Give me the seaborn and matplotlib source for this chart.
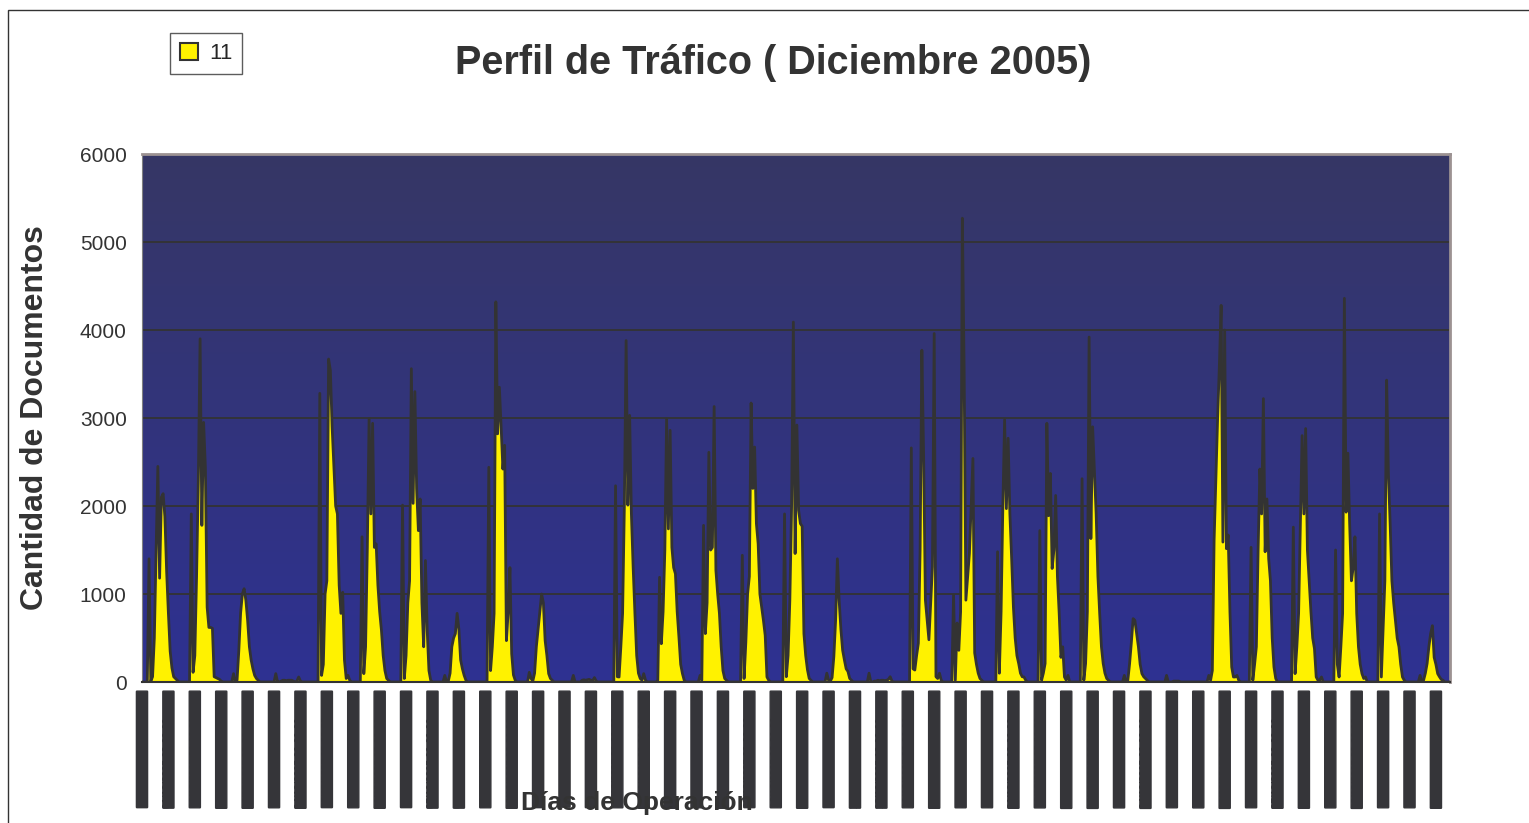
import matplotlib
matplotlib.use("Agg")
import matplotlib.pyplot as plt
import numpy as np
import pandas as pd
import seaborn as sns
from matplotlib.colors import LinearSegmentedColormap
from matplotlib.patches import Patch, Rectangle

# Documentos por hora, un arreglo por dia (00:00 .. 23:00)
dic01 = [0, 0, 0, 0, 1400, 10, 60, 500, 1500, 2450, 1180, 2100, 2140, 1880, 1250, 780, 350, 160, 60, 40, 20, 0, 0, 0]
dic02 = [0, 0, 0, 0, 1910, 110, 300, 1200, 2300, 3900, 1780, 2950, 2440, 850, 620, 620, 610, 60, 50, 40, 30, 10, 0, 0]
dic03 = [0, 0, 0, 0, 95, 0, 20, 360, 780, 1000, 1060, 930, 700, 400, 250, 150, 75, 40, 20, 0, 0, 0, 0, 0]
dic04 = [0, 0, 0, 0, 95, 0, 0, 10, 20, 20, 15, 20, 20, 20, 10, 0, 10, 57, 10, 0, 0, 0, 0, 0]
dic05 = [0, 0, 0, 0, 0, 3280, 75, 200, 1000, 1150, 3670, 3540, 2900, 2440, 2000, 1910, 1100, 780, 1020, 250, 40, 75, 20, 0]
dic06 = [0, 0, 0, 0, 0, 1650, 95, 400, 1530, 2990, 1910, 2940, 1530, 1570, 1100, 800, 590, 300, 130, 40, 20, 0, 0, 0]
dic07 = [0, 0, 0, 0, 2010, 40, 300, 900, 1150, 3560, 2030, 3300, 2200, 1720, 2080, 900, 400, 1380, 590, 130, 20, 0, 0, 0]
dic08 = [0, 0, 0, 0, 75, 0, 10, 100, 400, 500, 550, 780, 600, 250, 150, 75, 20, 0, 0, 0, 0, 0, 0, 0]
dic09 = [0, 0, 0, 0, 0, 2440, 130, 400, 780, 4320, 2820, 3350, 2900, 2420, 2690, 470, 800, 1300, 320, 80, 20, 0, 0, 0]
dic10 = [0, 0, 0, 0, 110, 40, 10, 100, 400, 600, 800, 1000, 900, 470, 300, 95, 40, 20, 0, 0, 0, 0, 0, 0]
dic11 = [0, 0, 0, 0, 0, 75, 0, 0, 0, 0, 20, 25, 20, 25, 30, 20, 15, 50, 10, 0, 0, 0, 0, 0]
dic12 = [0, 0, 0, 0, 0, 2230, 60, 57, 400, 780, 2000, 3880, 2010, 3030, 1910, 1300, 780, 300, 100, 40, 20, 95, 20, 0]
dic13 = [0, 0, 0, 0, 0, 20, 1190, 435, 800, 1500, 2990, 1740, 2860, 1530, 1300, 1230, 800, 510, 200, 95, 20, 0, 0, 0]
dic14 = [0, 0, 0, 0, 0, 75, 20, 1780, 550, 900, 2610, 1500, 1530, 3130, 1270, 1000, 780, 400, 130, 40, 20, 0, 0, 0]
dic15 = [0, 0, 0, 0, 0, 1440, 40, 450, 1000, 1200, 3170, 2200, 2670, 1800, 1570, 1000, 850, 700, 530, 57, 20, 0, 0, 0]
dic16 = [0, 0, 0, 0, 0, 1910, 60, 300, 930, 2000, 4090, 1460, 2920, 1950, 1800, 1770, 550, 300, 140, 40, 20, 0, 0, 0]
dic17 = [0, 0, 0, 0, 0, 100, 20, 10, 50, 290, 700, 1400, 930, 600, 360, 250, 150, 120, 40, 20, 0, 0, 0, 0]
dic18 = [0, 0, 0, 0, 0, 100, 0, 0, 10, 10, 20, 15, 20, 20, 15, 20, 30, 60, 10, 0, 0, 0, 0, 0]
dic19 = [0, 0, 0, 0, 0, 2660, 150, 136, 300, 440, 1500, 3770, 2560, 930, 700, 480, 900, 1310, 3960, 60, 40, 100, 20, 0]
dic20 = [0, 0, 0, 0, 0, 990, 20, 670, 360, 800, 5270, 3550, 930, 1200, 1460, 2000, 2540, 330, 200, 100, 40, 20, 0, 0]
dic21 = [0, 0, 0, 0, 0, 0, 1480, 100, 800, 2000, 2980, 1970, 2770, 1910, 1400, 850, 500, 300, 210, 100, 60, 57, 20, 0]
dic22 = [0, 0, 0, 0, 0, 0, 1720, 20, 100, 210, 2940, 1890, 2370, 1290, 1500, 2120, 1200, 780, 280, 400, 57, 20, 75, 0]
dic23 = [0, 0, 0, 0, 0, 0, 2310, 20, 210, 800, 3920, 1630, 2900, 2400, 1910, 1200, 780, 400, 210, 100, 40, 20, 0, 0]
dic24 = [0, 0, 0, 0, 0, 0, 75, 0, 20, 210, 450, 720, 700, 550, 400, 200, 95, 60, 40, 20, 0, 0, 0, 0]
dic25 = [0, 0, 0, 0, 0, 0, 75, 0, 0, 0, 10, 10, 10, 10, 0, 0, 0, 0, 0, 0, 0, 0, 0, 0]
dic26 = [0, 0, 0, 0, 0, 0, 75, 20, 130, 1610, 2300, 3000, 3600, 4280, 1590, 4000, 1515, 1670, 800, 170, 57, 57, 75, 20]
dic27 = [0, 0, 0, 0, 0, 0, 1530, 20, 200, 400, 1500, 2420, 1910, 3220, 1480, 2080, 1400, 1150, 500, 170, 40, 0, 0, 0]
dic28 = [0, 0, 0, 0, 0, 0, 1760, 95, 400, 780, 1800, 2800, 1910, 2880, 1500, 1150, 800, 500, 380, 57, 20, 20, 57, 0]
dic29 = [0, 0, 0, 0, 0, 0, 1500, 200, 57, 400, 780, 4360, 1930, 2600, 1800, 1150, 1300, 1650, 780, 400, 200, 95, 40, 57]
dic30 = [0, 0, 0, 0, 0, 0, 0, 1910, 57, 600, 1150, 3430, 2370, 1800, 1150, 900, 700, 500, 400, 200, 57, 20, 0, 0]
dic31 = [0, 0, 0, 0, 0, 0, 75, 0, 20, 100, 210, 400, 550, 640, 280, 200, 95, 60, 30, 20, 0, 0, 0, 0]

DIAS = [dic01, dic02, dic03, dic04, dic05, dic06, dic07, dic08, dic09, dic10,
        dic11, dic12, dic13, dic14, dic15, dic16, dic17, dic18, dic19, dic20,
        dic21, dic22, dic23, dic24, dic25, dic26, dic27, dic28, dic29, dic30, dic31]

SERIE = "11"
MARCAS_X = list(range(0, 744, 15))
FECHAS_X = [pd.Timestamp("2005-12-01") + pd.Timedelta(hours=h) for h in MARCAS_X]
ETIQUETAS_X = [f.strftime("%d/%m/%Y %I:%M:%S") + (" a. m." if f.hour < 12 else " p. m.")
               for f in FECHAS_X]
MARCAS_Y = [0, 1000, 2000, 3000, 4000, 5000, 6000]

OSCURO = "#353539"
AMARILLO = "#FFF200"


def get_data() -> pd.DataFrame:
    valores = [v for dia in DIAS for v in dia]
    return pd.DataFrame({"hora": range(len(valores)), "documentos": valores})


def plot_trafico(df: pd.DataFrame = None) -> None:
    if df is None:
        df = get_data()

    sns.set_style("white")
    plt.rcParams["font.family"] = ["Liberation Sans", "DejaVu Sans"]

    fig = plt.figure(figsize=(15.29, 8.23), dpi=100)
    ax = fig.add_axes([142 / 1529, 1 - 682 / 823, 1308 / 1529, 528 / 823])

    # fondo degradado del area de trazado
    fondo = LinearSegmentedColormap.from_list("fondo", ["#363765", "#2E3192"])
    ax.imshow(np.linspace(0, 1, 256).reshape(-1, 1), cmap=fondo, aspect="auto",
              extent=[0, 743, 0, 6000], zorder=-2)

    for y in MARCAS_Y[1:-1]:
        ax.axhline(y, color="#333333", lw=1.3, zorder=-1)

    ax.fill_between(df["hora"], df["documentos"], color=AMARILLO, lw=0, zorder=2)
    sns.lineplot(data=df, x="hora", y="documentos", color="#333333", lw=2,
                 estimator=None, ax=ax, zorder=3)

    ax.set_xlim(0, 743)
    ax.set_ylim(0, 6000)
    ax.set_xlabel("")
    ax.set_ylabel("")

    ax.set_yticks(MARCAS_Y)
    ax.set_yticklabels([str(v) for v in MARCAS_Y], fontsize=15, color="#333333")
    ax.tick_params(axis="y", length=4, width=1, color="#333333", pad=7)

    ax.set_xticks(MARCAS_X)
    ax.set_xticks(range(0, 744), minor=True)
    ax.set_xticklabels(ETIQUETAS_X, rotation=90, fontsize=7, color=OSCURO,
                       fontweight="bold", va="top", ha="center")
    for lab in ax.get_xticklabels():
        lab.set_bbox(dict(boxstyle="round,pad=0.06", facecolor=OSCURO, edgecolor=OSCURO))
    ax.tick_params(axis="x", which="both", length=4, width=0.8, color="#555555",
                   direction="out", pad=3)

    for lado in ["top", "right"]:
        ax.spines[lado].set_color("#9c9292")
        ax.spines[lado].set_linewidth(2)
    ax.spines["left"].set_color("#808080")
    ax.spines["bottom"].set_color("#333333")
    ax.spines["bottom"].set_linewidth(1.5)

    fig.text(773 / 1529, 1 - 63 / 823, "Perfil de Tráfico ( Diciembre 2005)",
             ha="center", va="center", fontsize=28.5, fontweight="bold", color="#333333")
    fig.text(35 / 1529, 1 - 418 / 823, "Cantidad de Documentos", rotation=90,
             ha="center", va="center", fontsize=23, fontweight="bold", color="#333333")
    fig.text(637 / 1529, 1 - 803 / 823, "Días de Operación", ha="center", va="center",
             fontsize=19, fontweight="bold", color="#333333", zorder=5)

    fig.legend(handles=[Patch(facecolor=AMARILLO, edgecolor="#333333", lw=1.5, label=SERIE)],
               loc="upper left", bbox_to_anchor=(170 / 1529, 1 - 33 / 823),
               fontsize=16, frameon=True, fancybox=False, edgecolor="#333333",
               handlelength=0.8, handleheight=0.8, handletextpad=0.5, borderpad=0.45,
               borderaxespad=0)

    fig.patches.append(Rectangle((8 / 1529, -0.01), 1.01, 1 - 10 / 823 + 0.01,
                                 transform=fig.transFigure, fill=False,
                                 edgecolor="#333333", lw=1))

    fig.savefig("out.png", dpi=100)


if __name__ == "__main__":
    plot_trafico()
